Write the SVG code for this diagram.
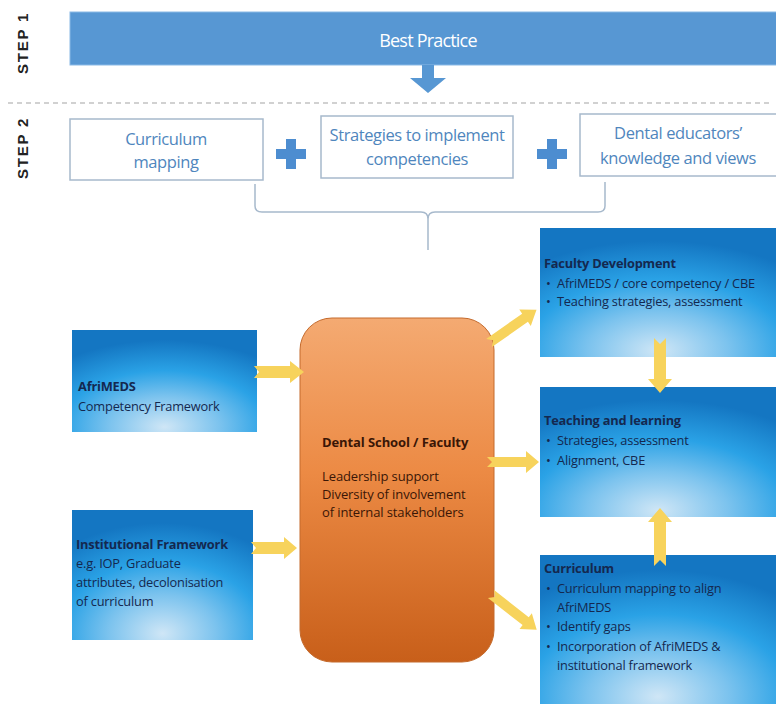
<svg xmlns="http://www.w3.org/2000/svg" width="776" height="704" viewBox="0 0 776 704">
<defs>
<radialGradient id="blueG" cx="50%" cy="95%" r="85%" fx="50%" fy="95%">
<stop offset="0" stop-color="#cfe6f6"/>
<stop offset="0.35" stop-color="#7cc3ee"/>
<stop offset="0.65" stop-color="#2aa2e6"/>
<stop offset="1" stop-color="#1476c2"/>
</radialGradient>
<linearGradient id="orangeG" x1="0" y1="0" x2="0" y2="1">
<stop offset="0" stop-color="#f4aa72"/>
<stop offset="0.45" stop-color="#ec8a44"/>
<stop offset="1" stop-color="#c85f1a"/>
</linearGradient>
<style>
.stepl{font-family:"Liberation Sans",Arial,sans-serif;font-weight:bold;font-size:15px;fill:#222222;letter-spacing:1.8px}
.s2{fill:#ffffff;stroke:#a7b9cc;stroke-width:1.5}
.s2t{font-family:"Open Sans","Liberation Sans",sans-serif;font-size:16.5px;fill:#4f86bd;text-anchor:middle;letter-spacing:-0.4px}
.bbox{fill:url(#blueG)}
.bt{font-family:"Open Sans","Liberation Sans",sans-serif;font-size:12.8px;fill:#14284f;letter-spacing:-0.2px}
.bb{font-weight:bold}
.dt{font-family:"Open Sans","Liberation Sans",sans-serif;font-size:13px;fill:#3a1606;letter-spacing:-0.1px}
.ya{fill:#f7d35c}
.plus{fill:#4d8dd0}
</style>
</defs>

<g id="step-labels">
<text class="stepl" transform="translate(28,43) rotate(-90)" text-anchor="middle">STEP 1</text>
<text class="stepl" transform="translate(28,148) rotate(-90)" text-anchor="middle">STEP 2</text>
</g>

<g id="best-practice">
<rect x="70" y="12" width="710" height="53" fill="#5797d3" stroke="#8ab9e6" stroke-width="1"/>
<text x="428" y="47" font-family="'Open Sans','Liberation Sans',sans-serif" font-size="18" fill="#ffffff" text-anchor="middle" letter-spacing="-0.8">Best Practice</text>
</g>

<line x1="8" y1="103" x2="772" y2="103" stroke="#c2c2c2" stroke-width="1.5" stroke-dasharray="5 4"/>

<g id="curriculum-mapping">
<rect class="s2" x="70" y="119" width="193" height="61"/>
<text class="s2t" x="166" y="145">Curriculum</text>
<text class="s2t" x="166" y="168">mapping</text>
</g>
<g id="strategies">
<rect class="s2" x="321" y="116" width="192" height="62"/>
<text class="s2t" x="417" y="141" letter-spacing="-0.7">Strategies to implement</text>
<text class="s2t" x="417" y="165">competencies</text>
</g>
<g id="educators">
<rect class="s2" x="580" y="114" width="200" height="62"/>
<text class="s2t" x="678" y="139">Dental educators’</text>
<text class="s2t" x="678" y="164" letter-spacing="-0.7">knowledge and views</text>
</g>

<g id="plus-signs">
<path class="plus" d="M286,139 h10 v10 h10 v10 h-10 v10 h-10 v-10 h-10 v-10 h10 z"/>
<path class="plus" d="M547,139 h10 v10 h10 v10 h-10 v10 h-10 v-10 h-10 v-10 h10 z"/>
</g>

<g id="connectors">
<path d="M255,184 V206 Q255,212 262,212 H421 Q428,212 428,219 V250 M605,182 V206 Q605,212 598,212 H435 Q428,212 428,219" fill="none" stroke="#a7b9cc" stroke-width="1.5"/>
<path d="M422,65 H434 V78 H446 L428,93 L410,78 H422 Z" fill="#5797d3"/>
</g>

<g id="afrimeds">
<rect class="bbox" x="72" y="330" width="185" height="102"/>
<text class="bt bb" x="78" y="391">AfriMEDS</text>
<text class="bt" x="78" y="411">Competency Framework</text>
</g>

<g id="institutional">
<rect class="bbox" x="72" y="510" width="181" height="130"/>
<text class="bt bb" x="76" y="549">Institutional Framework</text>
<text class="bt" x="76" y="568">e.g. IOP, Graduate</text>
<text class="bt" x="76" y="587">attributes, decolonisation</text>
<text class="bt" x="76" y="606">of curriculum</text>
</g>

<g id="dental-school">
<rect x="300" y="318" width="194" height="344" rx="32" ry="32" fill="url(#orangeG)" stroke="#c46a2c" stroke-width="1"/>
<text class="dt" x="322" y="447" font-weight="bold">Dental School / Faculty</text>
<text class="dt" x="322" y="481">Leadership support</text>
<text class="dt" x="322" y="499">Diversity of involvement</text>
<text class="dt" x="322" y="517">of internal stakeholders</text>
</g>

<g id="faculty-development">
<rect class="bbox" x="540" y="228" width="236" height="129"/>
<text class="bt bb" x="544" y="268">Faculty Development</text>
<text class="bt" x="546" y="288">•</text>
<text class="bt" x="557" y="288">AfriMEDS / core competency / CBE</text>
<text class="bt" x="546" y="306">•</text>
<text class="bt" x="557" y="306">Teaching strategies, assessment</text>
</g>

<g id="teaching-learning">
<rect class="bbox" x="540" y="387" width="236" height="130"/>
<text class="bt bb" x="544" y="425">Teaching and learning</text>
<text class="bt" x="546" y="445">•</text>
<text class="bt" x="557" y="445">Strategies, assessment</text>
<text class="bt" x="546" y="465">•</text>
<text class="bt" x="557" y="465">Alignment, CBE</text>
</g>

<g id="curriculum">
<rect class="bbox" x="540" y="555" width="236" height="149"/>
<text class="bt bb" x="544" y="573">Curriculum</text>
<text class="bt" x="546" y="593">•</text>
<text class="bt" x="557" y="593">Curriculum mapping to align</text>
<text class="bt" x="557" y="612">AfriMEDS</text>
<text class="bt" x="546" y="631">•</text>
<text class="bt" x="557" y="631">Identify gaps</text>
<text class="bt" x="546" y="651">•</text>
<text class="bt" x="557" y="651">Incorporation of AfriMEDS &amp;</text>
<text class="bt" x="557" y="670">institutional framework</text>
</g>

<g id="yellow-arrows">
<path class="ya" d="M254,366 H290 V361 L304,372 L290,383 V378 H254 L259,372 Z"/>
<path class="ya" d="M251,542 H284 V537 L297,548 L284,559 V554 H251 L256,548 Z"/>
<path class="ya" d="M487,457 H526 V451 L539,462 L526,473 V467 H487 L492,462 Z"/>
<path class="ya" transform="translate(489,343) rotate(-35)" d="M0,-5 H44 V-10 L58,0 L44,10 V5 H0 L5,0 Z"/>
<path class="ya" transform="translate(491,594) rotate(38)" d="M0,-5 H44 V-10 L58,0 L44,10 V5 H0 L5,0 Z"/>
<path class="ya" d="M654,338 L660,344 L666,338 V379 H672 L660,393 L648,379 H654 Z"/>
<path class="ya" d="M654,566 L660,560 L666,566 V522 H672 L660,508 L648,522 H654 Z"/>
</g>
</svg>
